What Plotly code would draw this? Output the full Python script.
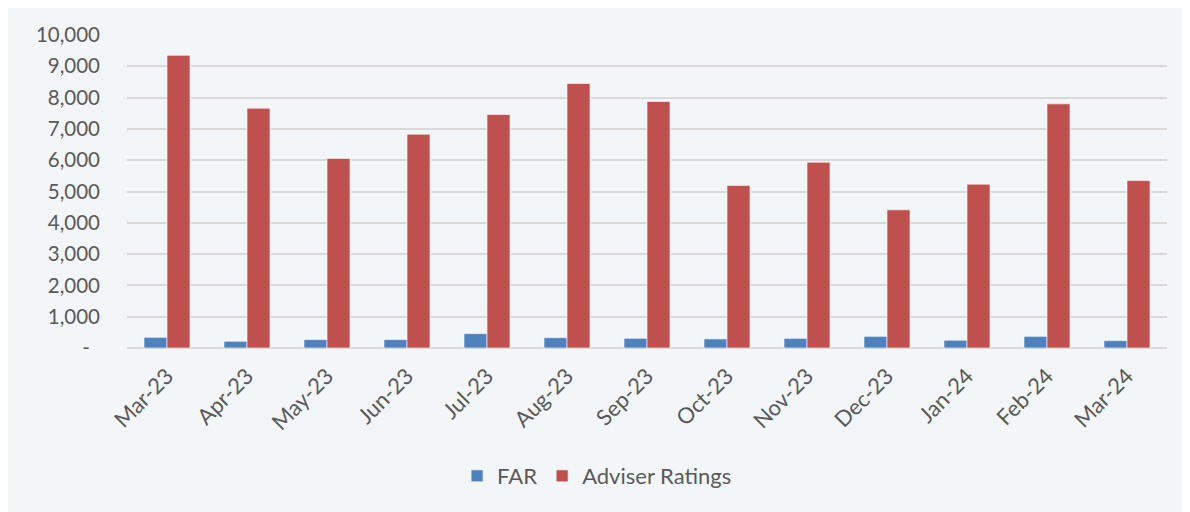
import plotly.graph_objects as go

months = ["Mar-23", "Apr-23", "May-23", "Jun-23", "Jul-23", "Aug-23", "Sep-23",
          "Oct-23", "Nov-23", "Dec-23", "Jan-24", "Feb-24", "Mar-24"]
far = [340, 215, 268, 268, 460, 330, 310, 290, 308, 372, 248, 372, 236]
adviser_ratings = [9350, 7660, 6055, 6830, 7460, 8450, 7875, 5195, 5935, 4415, 5235, 7800, 5350]

y_tickvals = [0, 1000, 2000, 3000, 4000, 5000, 6000, 7000, 8000, 9000, 10000]
y_ticktext = ["-\u2002", "1,000", "2,000", "3,000", "4,000", "5,000", "6,000",
              "7,000", "8,000", "9,000", "10,000"]

blue = "#4F81BD"
red = "#C0504D"
bg = "#F2F6F9"
font_family = "Lato, 'Open Sans', sans-serif"

fig = go.Figure()
fig.add_trace(go.Bar(x=months, y=far, name="FAR", marker_color=blue,
                     marker_line=dict(color="rgba(255,255,255,0.6)", width=1)))
fig.add_trace(go.Bar(x=months, y=adviser_ratings, name="Adviser Ratings", marker_color=red,
                     marker_line=dict(color="rgba(255,255,255,0.6)", width=1)))

fig.update_layout(
    width=1190, height=512,
    margin=dict(l=119, r=31, t=27, b=172),
    paper_bgcolor=bg,
    plot_bgcolor=bg,
    barmode="group", bargap=0.425, bargroupgap=0,
    font=dict(family=font_family, size=20, color="#595959"),
    showlegend=True,
    legend=dict(orientation="h", x=0.452, xanchor="center", y=-0.409, yanchor="middle",
                font=dict(size=22, color="#595959"), bgcolor="rgba(0,0,0,0)"),
)
fig.update_xaxes(tickangle=-45, showgrid=False, showline=False, ticks="",
                 ticklabelstandoff=10,
                 tickfont=dict(size=22, color="#595959"))
fig.update_yaxes(range=[0, 10000], tickvals=y_tickvals, ticktext=y_ticktext,
                 showgrid=True, gridcolor="#D9D9D9", gridwidth=1.5,
                 zeroline=True, zerolinecolor="#D9D9D9", zerolinewidth=1.5,
                 ticks="", ticklabelstandoff=26, tickfont=dict(size=20.5, color="#595959"))

fig.write_html("out.html")
